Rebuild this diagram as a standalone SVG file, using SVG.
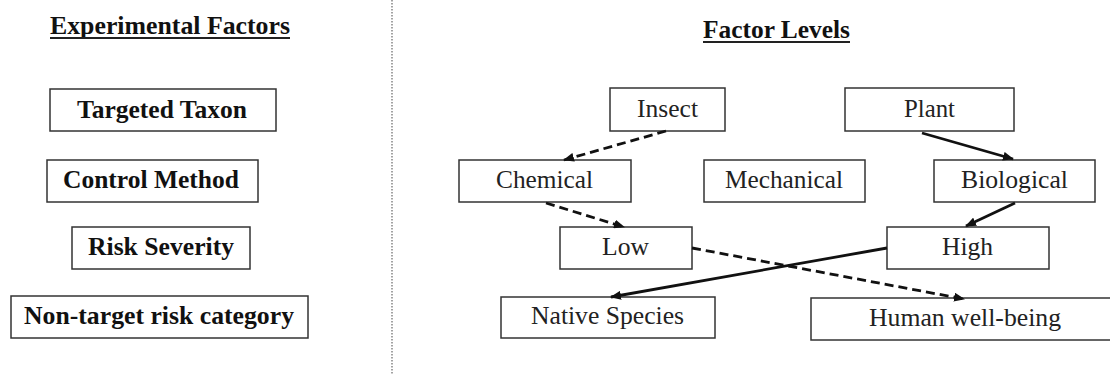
<svg xmlns="http://www.w3.org/2000/svg" width="1110" height="375" viewBox="0 0 1110 375">
<defs>
<style>
.box{fill:#fff;stroke:#333;stroke-width:1.5}
.lt{font-family:"Liberation Serif","Times New Roman",serif;font-weight:bold;font-size:25px;fill:#111}
.rt{font-family:"Liberation Serif","Times New Roman",serif;font-size:25px;fill:#222}
.title{font-family:"Liberation Serif","Times New Roman",serif;font-weight:bold;font-size:25px;fill:#111}
.ul{stroke:#222;stroke-width:2}
.con{fill:none;stroke:#111;stroke-width:2.8}
.dash{stroke-dasharray:9 5}
</style>
<marker id="ah" markerUnits="userSpaceOnUse" markerWidth="11" markerHeight="9" viewBox="0 0 11 9" refX="10" refY="4.5" orient="auto">
<path d="M0,0 L11,4.5 L0,9 Z" fill="#111"/>
</marker>
</defs>
<rect width="1110" height="375" fill="#fff"/>

<g id="titles">
<text class="title" x="50" y="34" textLength="240" lengthAdjust="spacingAndGlyphs">Experimental Factors</text>
<line class="ul" x1="50" y1="38" x2="290" y2="38"/>
<text class="title" x="703" y="38" textLength="147" lengthAdjust="spacingAndGlyphs">Factor Levels</text>
<line class="ul" x1="703" y1="42" x2="850" y2="42"/>
</g>

<line id="divider" x1="392" y1="0" x2="392" y2="375" stroke="#666" stroke-width="1.2" stroke-dasharray="1.5 1.5"/>

<g id="factor-targeted-taxon"><rect class="box" x="50" y="89" width="226" height="42"/><text class="lt" x="77" y="118" textLength="170" lengthAdjust="spacingAndGlyphs">Targeted Taxon</text></g>
<g id="factor-control-method"><rect class="box" x="47" y="160" width="211" height="42"/><text class="lt" x="63" y="188" textLength="176" lengthAdjust="spacingAndGlyphs">Control Method</text></g>
<g id="factor-risk-severity"><rect class="box" x="72" y="227" width="178" height="42"/><text class="lt" x="88" y="255" textLength="146" lengthAdjust="spacingAndGlyphs">Risk Severity</text></g>
<g id="factor-nontarget"><rect class="box" x="11" y="296" width="297" height="42"/><text class="lt" x="24" y="324" textLength="270" lengthAdjust="spacingAndGlyphs">Non-target risk category</text></g>

<g id="node-insect"><rect class="box" x="610" y="88" width="115" height="43"/><text class="rt" x="637" y="117" textLength="61" lengthAdjust="spacingAndGlyphs">Insect</text></g>
<g id="node-plant"><rect class="box" x="845" y="88" width="169" height="43"/><text class="rt" x="904" y="117" textLength="51" lengthAdjust="spacingAndGlyphs">Plant</text></g>
<g id="node-chemical"><rect class="box" x="459" y="160" width="172" height="42"/><text class="rt" x="496" y="188" textLength="97" lengthAdjust="spacingAndGlyphs">Chemical</text></g>
<g id="node-mechanical"><rect class="box" x="704" y="160" width="161" height="42"/><text class="rt" x="725" y="188" textLength="118" lengthAdjust="spacingAndGlyphs">Mechanical</text></g>
<g id="node-biological"><rect class="box" x="934" y="160" width="161" height="42"/><text class="rt" x="961" y="188" textLength="107" lengthAdjust="spacingAndGlyphs">Biological</text></g>
<g id="node-low"><rect class="box" x="560" y="227" width="132" height="42"/><text class="rt" x="602" y="255" textLength="47" lengthAdjust="spacingAndGlyphs">Low</text></g>
<g id="node-high"><rect class="box" x="887" y="227" width="162" height="42"/><text class="rt" x="942" y="255" textLength="51" lengthAdjust="spacingAndGlyphs">High</text></g>
<g id="node-native"><rect class="box" x="501" y="297" width="214" height="41"/><text class="rt" x="531" y="324" textLength="153" lengthAdjust="spacingAndGlyphs">Native Species</text></g>
<g id="node-human"><rect class="box" x="811" y="298" width="310" height="42"/><text class="rt" x="869" y="326" textLength="192" lengthAdjust="spacingAndGlyphs">Human well-being</text></g>

<g id="connectors">
<line class="con dash" x1="666" y1="131" x2="564" y2="160" marker-end="url(#ah)"/>
<line class="con dash" x1="546" y1="203" x2="624" y2="227" marker-end="url(#ah)"/>
<line class="con" x1="922" y1="133" x2="1013" y2="159" marker-end="url(#ah)"/>
<line class="con" x1="1015" y1="203" x2="966" y2="226" marker-end="url(#ah)"/>
<line class="con" x1="887" y1="248" x2="611" y2="297" marker-end="url(#ah)"/>
<line class="con dash" x1="692" y1="248" x2="964" y2="299" marker-end="url(#ah)"/>
</g>
</svg>
